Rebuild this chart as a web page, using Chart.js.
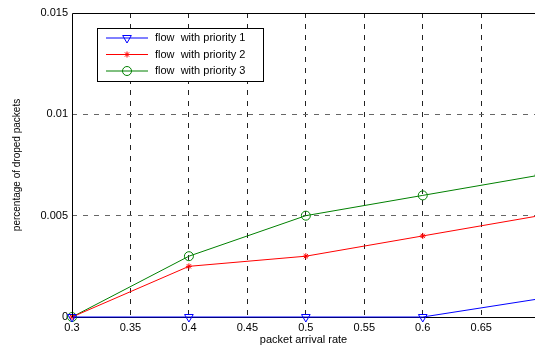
<!DOCTYPE html>
<html>
<head>
<meta charset="utf-8">
<script src="https://cdn.jsdelivr.net/npm/chart.js@4/dist/chart.umd.min.js"></script>
<style>
  html, body { margin: 0; padding: 0; background: #fff; }
  #wrap { width: 535px; height: 347px; }
</style>
</head>
<body>
<div id="wrap"><canvas id="myChart" width="535" height="347"></canvas></div>
<script>
// packet arrival rate values
const rates = [0.3, 0.4, 0.5, 0.6, 0.7];
const priority1 = [0, 0, 0, 0, 0.0009];
const priority2 = [0, 0.0025, 0.003, 0.004, 0.005];
const priority3 = [0, 0.003, 0.005, 0.006, 0.007];
const seriesNames = ['flow  with priority 1', 'flow  with priority 2', 'flow  with priority 3'];
const xTicks = [0.3, 0.35, 0.4, 0.45, 0.5, 0.55, 0.6, 0.65];
const yTicks = [0, 0.005, 0.01, 0.015];

const FONT = 'Liberation Sans, Arial, sans-serif';

function pairs(vals) {
    return rates.map((r, i) => ({x: r, y: vals[i]}));
}

// black frame (left, top) like the matlab axes box
const framePlugin = {
    id: 'frame',
    afterDatasetsDraw(chart) {
        const a = chart.chartArea;
        const ctx = chart.ctx;
        ctx.save();
        ctx.strokeStyle = '#000';
        ctx.lineWidth = 1;
        ctx.setLineDash([]);
        ctx.beginPath();
        ctx.moveTo(a.left + 0.5, a.bottom);
        ctx.lineTo(a.left + 0.5, a.top + 0.5);
        ctx.lineTo(a.right, a.top + 0.5);
        ctx.stroke();
        ctx.restore();
    }
};

// boxed legend inside the plot, top left
const boxLegend = {
    id: 'boxLegend',
    afterDraw(chart) {
        const a = chart.chartArea;
        const ctx = chart.ctx;
        const bx = a.left + 25, by = a.top + 15, bw = 166, bh = 53;
        ctx.save();
        ctx.setLineDash([]);
        ctx.fillStyle = '#fff';
        ctx.fillRect(bx, by, bw, bh);
        ctx.strokeStyle = '#000';
        ctx.lineWidth = 1;
        ctx.strokeRect(bx + 0.5, by + 0.5, bw, bh);
        chart.data.datasets.forEach((ds, i) => {
            const cy = by + 10 + i * 16.5;
            ctx.strokeStyle = ds.borderColor;
            ctx.lineWidth = 1;
            ctx.beginPath();
            ctx.moveTo(bx + 9, cy);
            ctx.lineTo(bx + 51, cy);
            ctx.stroke();
            ctx.fillStyle = 'rgba(0,0,0,0)';
            ctx.strokeStyle = ds.borderColor;
            Chart.helpers.drawPoint(ctx, {
                pointStyle: ds.pointStyle,
                rotation: ds.pointRotation || 0,
                radius: ds.pointRadius,
                borderWidth: 1
            }, bx + 30, cy);
            ctx.fillStyle = '#000';
            ctx.font = '11px ' + FONT;
            ctx.textBaseline = 'middle';
            ctx.textAlign = 'left';
            ctx.fillText(ds.label, bx + 58, cy);
        });
        ctx.restore();
    }
};

const markClip = {left: 8, bottom: 8, top: 0, right: 0};

const ctx = document.getElementById('myChart');
const myChart = new Chart(ctx, {
    type: 'line',
    data: {
        datasets: [{
            label: seriesNames[0],
            data: pairs(priority1),
            borderColor: '#0000ff',
            backgroundColor: 'rgba(0,0,0,0)',
            pointStyle: 'triangle',
            pointRotation: 180,
            pointRadius: 5,
            clip: markClip
        }, {
            label: seriesNames[1],
            data: pairs(priority2),
            borderColor: '#ff0000',
            backgroundColor: 'rgba(0,0,0,0)',
            pointStyle: 'star',
            pointRadius: 3,
            clip: markClip
        }, {
            label: seriesNames[2],
            data: pairs(priority3),
            borderColor: '#008000',
            backgroundColor: 'rgba(0,0,0,0)',
            pointStyle: 'circle',
            pointRadius: 4.5,
            clip: markClip
        }]
    },
    options: {
        responsive: false,
        animation: false,
        elements: {
            line: {borderWidth: 1, tension: 0},
            point: {borderWidth: 1}
        },
        layout: {autoPadding: false, padding: {top: 13, right: 0, left: 0, bottom: 0}},
        plugins: {
            legend: {display: false},
            tooltip: {enabled: false}
        },
        scales: {
            x: {
                type: 'linear',
                min: 0.3,
                max: 0.696,
                afterBuildTicks: (s) => { s.ticks = xTicks.map(v => ({value: v})); },
                afterFit: (s) => { s.height = 30; s.paddingLeft = 0; s.paddingRight = 0; },
                grid: {
                    color: (c) => c.tick && c.tick.value === 0.3 ? 'rgba(0,0,0,0)' : '#222',
                    lineWidth: 1,
                    drawTicks: false
                },
                border: {display: true, color: '#000', dash: [5, 6]},
                ticks: {
                    color: '#000',
                    font: {family: FONT, size: 11},
                    padding: 4,
                    maxRotation: 0,
                    callback: (v) => String(Number(v.toFixed(2)))
                },
                title: {
                    display: true,
                    text: 'packet arrival rate',
                    color: '#000',
                    font: {family: FONT, size: 11},
                    padding: {top: 0, bottom: 0}
                }
            },
            y: {
                min: 0,
                max: 0.015,
                afterBuildTicks: (s) => { s.ticks = yTicks.map(v => ({value: v})); },
                afterFit: (s) => { s.width = 72; },
                grid: {
                    color: (c) => (c.tick && (c.tick.value === 0 || c.tick.value === 0.015)) ? 'rgba(0,0,0,0)' : '#666',
                    lineWidth: 1,
                    drawTicks: false
                },
                border: {display: false, dash: [5, 6]},
                ticks: {
                    color: '#000',
                    font: {family: FONT, size: 11},
                    padding: 4,
                    callback: (v) => String(Number(v.toFixed(3)))
                },
                title: {
                    display: true,
                    text: 'percentage of droped packets',
                    color: '#000',
                    font: {family: FONT, size: 10},
                    padding: {top: 11, bottom: 0}
                }
            }
        }
    },
    plugins: [framePlugin, boxLegend]
});
</script>
</body>
</html>
